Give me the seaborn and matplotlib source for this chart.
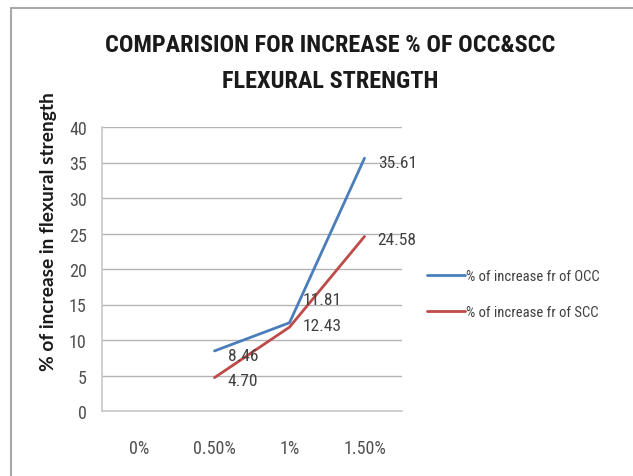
import matplotlib
matplotlib.use("Agg")
import matplotlib.pyplot as plt
from matplotlib.lines import Line2D
import numpy as np
import pandas as pd
import seaborn as sns

# Fibre dosage categories and % increase in flexural strength
categories = ["0%", "0.50%", "1%", "1.50%"]
occ_values = [np.nan, 8.46, 12.43, 35.61]
scc_values = [np.nan, 4.70, 11.81, 24.58]
series_names = ["% of increase fr of OCC", "% of increase fr of SCC"]
y_ticks = [0, 5, 10, 15, 20, 25, 30, 35, 40]

colors = ["#4a7ebb", "#be4b48"]

sns.set_theme(style="white")
narrow = ["Liberation Sans Narrow", "DejaVu Sans Condensed", "Roboto Condensed",
          "DejaVu Sans"]
plt.rcParams["font.family"] = narrow

rows = []
for name, vals in zip(series_names, [occ_values, scc_values]):
    for i, (cat, v) in enumerate(zip(categories, vals)):
        rows.append({"pos": i, "category": cat, "value": v, "series": name})
df = pd.DataFrame(rows)

fig = plt.figure(figsize=(6.33, 4.77), dpi=100)
ax = fig.add_axes([102 / 633, 65 / 477, 300 / 633, 284 / 477])

sns.lineplot(data=df.dropna(), x="pos", y="value", hue="series",
             hue_order=series_names, palette=colors, linewidth=2.0,
             ax=ax, legend=False, sort=False)

ax.set_xlim(-0.5, len(categories) - 0.5)
ax.set_ylim(0, 40)
ax.set_xticks(range(len(categories)))
ax.set_xticklabels(categories)
ax.set_yticks(y_ticks)
ax.set_xlabel("")
ax.set_ylabel("")
ax.grid(axis="y", color="#b3b3b3", linewidth=1.0)
ax.grid(axis="x", visible=False)
ax.set_axisbelow(True)
for side in ["top", "right"]:
    ax.spines[side].set_visible(False)
for side in ["left", "bottom"]:
    ax.spines[side].set_color("#c8c8c8")
    ax.spines[side].set_linewidth(1.2)
ax.tick_params(axis="both", length=0, labelsize=13, labelcolor="#505050")
ax.tick_params(axis="x", pad=20)
ax.tick_params(axis="y", pad=11)

# value labels beside each point
label_offsets = {
    ("% of increase fr of OCC", 1): (0, -3),
    ("% of increase fr of OCC", 2): (0, -2),
    ("% of increase fr of OCC", 3): (0, -3),
    ("% of increase fr of SCC", 1): (0, -2),
    ("% of increase fr of SCC", 2): (0, 20),
    ("% of increase fr of SCC", 3): (0, -2),
}
for name, vals in zip(series_names, [occ_values, scc_values]):
    for i, v in enumerate(vals):
        if np.isnan(v):
            continue
        dx, dy = label_offsets.get((name, i), (0, 0))
        ax.annotate(f"{v:.2f}", xy=(i, v), xytext=(9.5 + dx, dy),
                    textcoords="offset points", ha="left", va="center",
                    fontsize=12.5, color="#404040")

# legend
handles = [Line2D([0], [0], color=c, linewidth=2.0) for c in colors]
fig.legend(handles, series_names, loc="upper left",
           bbox_to_anchor=(414 / 633, 1 - 257 / 477), frameon=False,
           handlelength=2.6, handletextpad=0.05, labelspacing=1.5,
           prop={"family": narrow, "size": 10.5}, labelcolor="#404040")

fig.text(330 / 633, 1 - 46 / 477, "COMPARISION FOR INCREASE % OF OCC&SCC",
         ha="center", va="center", fontsize=17.5, fontweight="bold",
         color="#1a1a1a")
fig.text(330 / 633, 1 - 81 / 477, "FLEXURAL STRENGTH",
         ha="center", va="center", fontsize=17.5, fontweight="bold",
         color="#1a1a1a")
fig.text(49 / 633, 1 - 232 / 477, "% of increase in flexural strength",
         rotation=90, ha="center", va="center", fontsize=13.8,
         fontweight="bold", color="#1a1a1a",
         family=["Lato", "DejaVu Sans"])

# chart-area border (left and top edges)
fig.add_artist(Line2D([11 / 633, 11 / 633], [0, 1 - 9 / 477],
                      transform=fig.transFigure, color="#a8a8a8", linewidth=1.5))
fig.add_artist(Line2D([11 / 633, 1], [1 - 9 / 477, 1 - 9 / 477],
                      transform=fig.transFigure, color="#a8a8a8", linewidth=1.5))

fig.savefig("out.png", dpi=100)
